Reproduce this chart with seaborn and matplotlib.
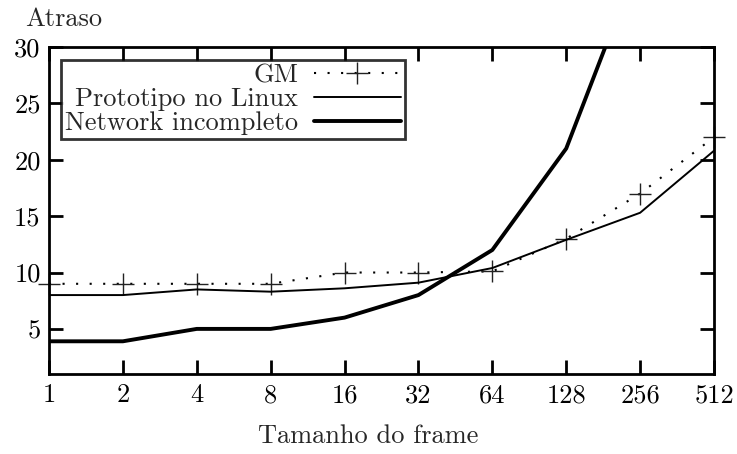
import matplotlib
matplotlib.use("Agg")
import matplotlib.pyplot as plt
import seaborn as sns
import pandas as pd
from matplotlib.ticker import FixedLocator, FixedFormatter, NullLocator

frame_sizes = [1, 2, 4, 8, 16, 32, 64, 128, 256, 512]
gm = [9, 9, 9, 9, 10, 10, 10.1, 13, 17, 22]
prototipo = [8, 8, 8.5, 8.3, 8.6, 9.1, 10.4, 12.9, 15.3, 20.8]
network = [3.9, 3.9, 5, 5, 6, 8, 12, 21, 38, 70]
series_names = ["GM", "Prototipo no Linux", "Network incompleto"]
x_ticks = frame_sizes
y_ticks = [5, 10, 15, 20, 25, 30]

sns.set_theme(style="white")
plt.rcParams['font.family'] = ['cmr10', 'DejaVu Serif']
plt.rcParams['mathtext.fontset'] = 'cm'
plt.rcParams['axes.formatter.use_mathtext'] = True

FS = 19

fig = plt.figure(figsize=(7.37, 4.54), dpi=100)
ax = fig.add_axes([49/737, 1-374/454, (714-49)/737, (374-47)/454])

df_gm = pd.DataFrame({"x": frame_sizes, "y": gm})
df_pr = pd.DataFrame({"x": frame_sizes, "y": prototipo})
df_nw = pd.DataFrame({"x": frame_sizes, "y": network})

sns.lineplot(data=df_gm, x="x", y="y", ax=ax, color="black", lw=1.5,
             linestyle=(0, (1, 5.5)), marker="+", markersize=16, markeredgewidth=1.0,
             markeredgecolor="#222222", label=series_names[0], clip_on=False)
sns.lineplot(data=df_pr, x="x", y="y", ax=ax, color="black", lw=1.4,
             label=series_names[1])
sns.lineplot(data=df_nw, x="x", y="y", ax=ax, color="black", lw=2.8,
             label=series_names[2])

ax.set_xscale("log", base=2)
ax.set_xlim(1, 512)
ax.set_ylim(1, 30)
ax.xaxis.set_major_locator(FixedLocator(x_ticks))
ax.xaxis.set_major_formatter(FixedFormatter([str(v) for v in x_ticks]))
ax.xaxis.set_minor_locator(NullLocator())
ax.yaxis.set_major_locator(FixedLocator(y_ticks))
ax.yaxis.set_major_formatter(FixedFormatter([str(v) for v in y_ticks]))

for sp in ax.spines.values():
    sp.set_visible(True)
    sp.set_color("black")
    sp.set_linewidth(2)

ax.tick_params(axis="both", which="major", direction="in", length=10, width=2,
               colors="black", labelsize=FS, top=True, right=True,
               bottom=True, left=True)
ax.tick_params(axis="x", pad=7)
ax.tick_params(axis="y", pad=6)
ax.set_xlabel("Tamanho do frame", fontsize=FS, labelpad=12)
ax.xaxis.label.set_x(0.48)
ax.set_ylabel("")
fig.text(25/737, 1-19/454, "Atraso", fontsize=FS, va="center", ha="left")

leg = ax.legend(loc="upper left", bbox_to_anchor=(12/665, 1-13/327),
                markerfirst=False, frameon=True, fancybox=False,
                fontsize=FS, handlelength=3.3, handletextpad=0.6,
                borderpad=0.15, labelspacing=0.0, borderaxespad=0)
leg.get_frame().set_edgecolor("black")
leg.get_frame().set_linewidth(2)
for t in leg.get_texts():
    t.set_ha("right")
leg._legend_box.align = "right"

fig.savefig("out.png", dpi=100)
